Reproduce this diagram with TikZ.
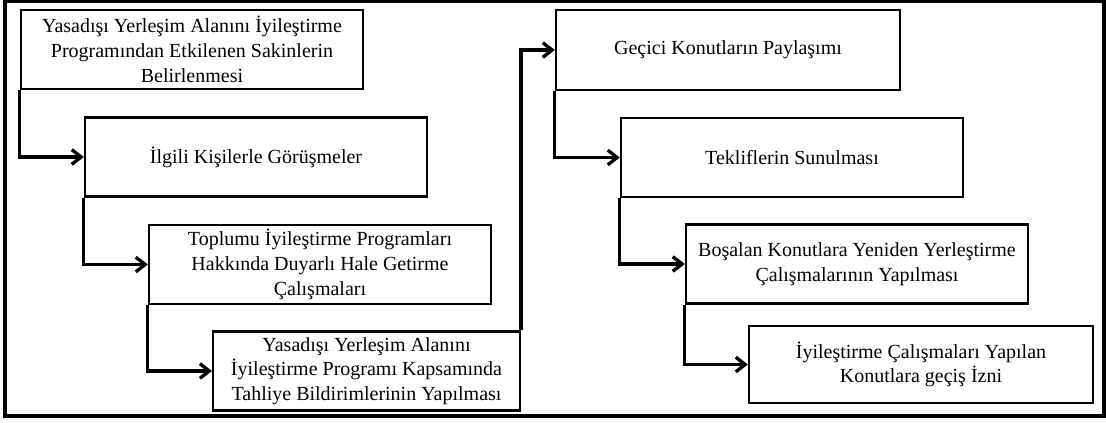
\documentclass[tikz,border=0pt]{standalone}
\usepackage{fontspec}
\newfontfamily\tnr{Liberation Serif}
\usetikzlibrary{arrows.meta}

\begin{document}
\begin{tikzpicture}[x=0.75pt,y=-0.75pt,
    adim/.style={draw,line width=1.8pt,align=center,inner sep=2pt,
        minimum width=256.5pt,minimum height=59pt,
        font=\tnr\fontsize{15}{18.5}\selectfont},
    ok/.style={line width=2.5pt,-{Straight Barb[length=7pt,width=11pt,line width=2.5pt]}}]
    \useasboundingbox (0,0) rectangle (1106,423);
    \draw[line width=2.4pt] (5,1.5) rectangle (1104,416);
    %
    \node[adim] (A1) at (192,49.5) {Yasadışı Yerleşim Alanını İyileştirme\\Programından Etkilenen Sakinlerin\\Belirlenmesi};
    \node[adim] (A2) at (256,157) {İlgili Kişilerle Görüşmeler};
    \node[adim] (A3) at (320,264.5) {Toplumu İyileştirme Programları\\Hakkında Duyarlı Hale Getirme\\Çalışmaları};
    \node[adim,minimum width=230pt] (A4) at (366.5,371) {Yasadışı Yerleşim Alanını\\İyileştirme Programı Kapsamında\\Tahliye Bildirimlerinin Yapılması};
    %
    \node[adim,minimum width=258pt,minimum height=60pt] (B1) at (728,50) {Geçici Konutların Paylaşımı};
    \node[adim] (B2) at (792,157.5) {Tekliflerin Sunulması};
    \node[adim] (B3) at (857,264) {Boşalan Konutlara Yeniden Yerleştirme\\Çalışmalarının Yapılması};
    \node[adim,minimum width=258pt,minimum height=58pt] (B4) at (921,364.5) {İyileştirme Çalışmaları Yapılan\\Konutlara geçiş İzni};
    %
    \draw[ok] (A1.south west) |- (A2.west);
    \draw[ok] (A2.south west) |- (A3.west);
    \draw[ok] (A3.south west) |- (A4.west);
    \draw[ok] (A4.north east) |- (B1.west);
    \draw[ok] (B1.south west) |- (B2.west);
    \draw[ok] (B2.south west) |- (B3.west);
    \draw[ok] (B3.south west) |- (B4.west);
    %
\end{tikzpicture}
\end{document}
